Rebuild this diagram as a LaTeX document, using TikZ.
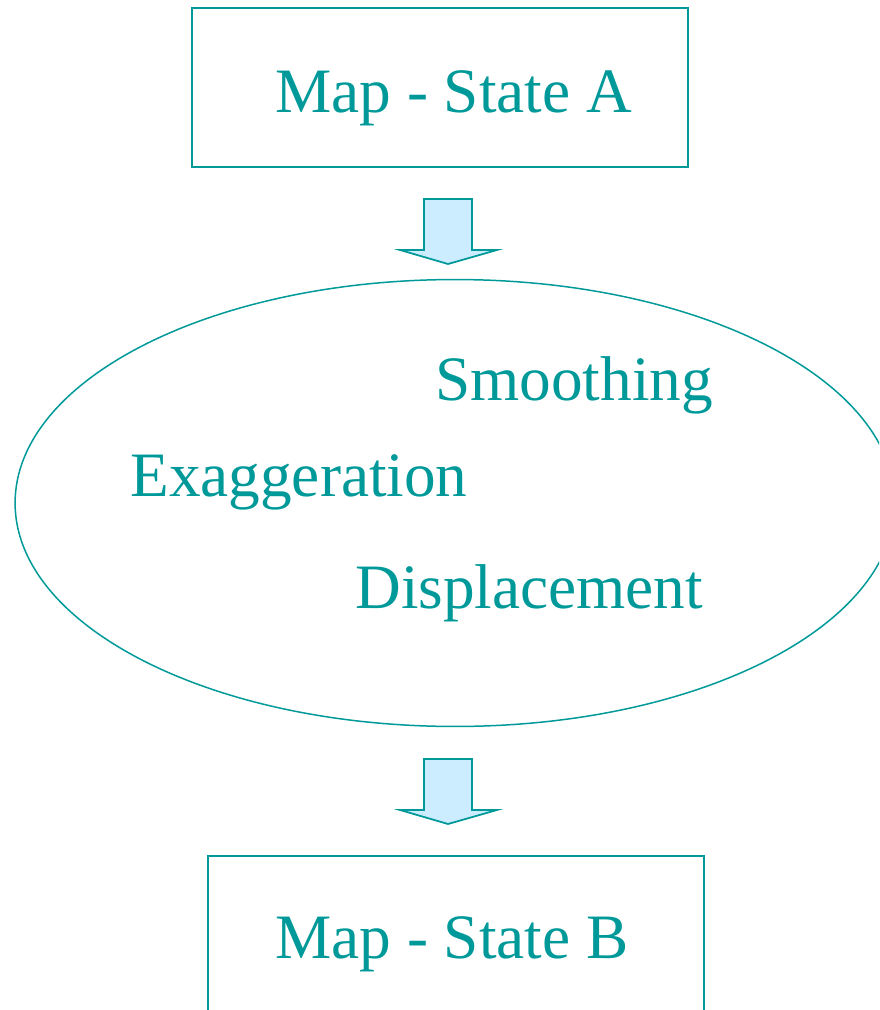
\documentclass[tikz,border=0pt]{standalone}
\usepackage{fontspec}
\setmainfont{Liberation Serif}
\usepackage{tikz}
\usetikzlibrary{shapes.geometric}
\definecolor{verdeazul}{HTML}{009999}
\definecolor{celeste}{HTML}{CCECFF}
\tikzset{
  caja/.style={rectangle,draw=verdeazul,line width=0.8pt,inner sep=0pt},
  elipse/.style={ellipse,draw=verdeazul,line width=0.85pt,inner sep=0pt},
  texto/.style={anchor=base west,inner sep=0pt,text=verdeazul,font=\fontsize{36}{43}\selectfont},
  flecha/.style={draw=verdeazul,fill=celeste,line width=1pt,line join=miter},
}

\begin{document}
\begin{tikzpicture}[x=0.02cm,y=-0.02cm]
\useasboundingbox (0,0) rectangle (879,1010);
\clip (0,0) rectangle (879,1010);
% cajas de los dos estados
\node[caja,minimum width=9.92cm,minimum height=3.18cm] (estadoA) at (440,87.5) {};
\node[caja,minimum width=9.92cm,minimum height=3.18cm] (estadoB) at (456,935.5) {};
\node[texto] (etiqA) at (275,113) {Map - State A};
\node[texto] (etiqB) at (275,958) {Map - State B};
% operaciones
\node[elipse,minimum width=17.6cm,minimum height=8.94cm] (operaciones) at (455,503) {};
\node[texto] (suavizado) at (435,400) {Smoothing};
\node[texto] (exagera) at (130,496) {Exaggeration};
\node[texto] (desplaza) at (355,608) {Displacement};
% flechas de bloque
\foreach \y in {199,759} {
  \draw[flecha] (424,\y) -- (472,\y) -- (472,\y+51) -- (497,\y+51)
    -- (448,\y+65) -- (400,\y+51) -- (424,\y+51) -- cycle;
}
\end{tikzpicture}
\end{document}
